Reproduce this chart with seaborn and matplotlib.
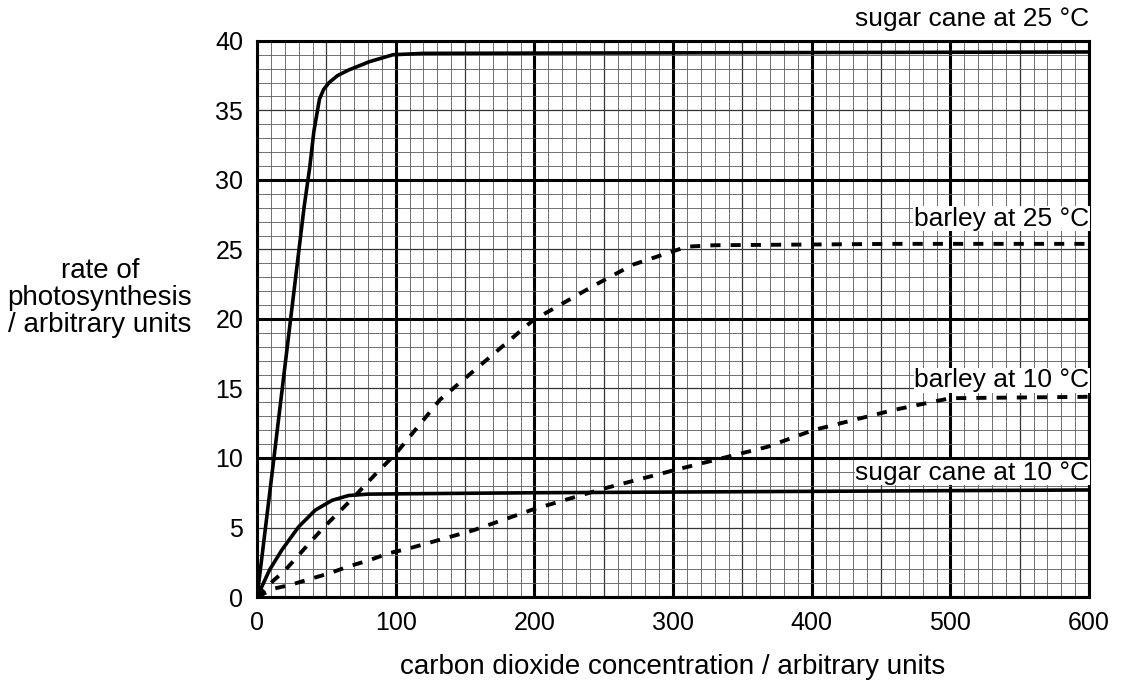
import pandas as pd
import matplotlib
matplotlib.use("Agg")
import matplotlib.pyplot as plt
import seaborn as sns

# ── data ──────────────────────────────────────────────────────────────────────
cane25_x = [0, 10, 20, 34, 38, 41, 45, 48, 52, 58, 66, 81, 98, 120, 600]
cane25_y = [0, 8.2, 16.5, 28.1, 30.9, 33.5, 35.8, 36.5, 37.0, 37.5, 37.9, 38.5, 39.0, 39.1, 39.2]

cane10_x = [0, 9, 18, 30, 42, 54, 66, 80, 100, 200, 400, 600]
cane10_y = [0, 1.95, 3.4, 5.05, 6.25, 6.95, 7.3, 7.4, 7.42, 7.5, 7.6, 7.7]

barley25_x = [0, 12, 20, 29, 38, 48, 58, 68, 86, 100, 132, 199, 243, 271, 298, 310, 330, 460, 600]
barley25_y = [0, 1.2, 1.9, 2.9, 3.9, 5.0, 6.0, 7.0, 8.9, 10.3, 14.2, 19.9, 22.4, 23.9, 24.8, 25.2, 25.3, 25.4, 25.4]

barley10_x = [0, 12, 25, 40, 52, 66, 81, 95, 108, 156, 199, 250, 300, 368, 401, 459, 500, 600]
barley10_y = [0, 0.6, 0.9, 1.35, 1.7, 2.2, 2.65, 3.15, 3.45, 4.8, 6.3, 7.8, 9.1, 10.8, 12.0, 13.45, 14.3, 14.4]

x_ticks = [0, 100, 200, 300, 400, 500, 600]
y_ticks = [0, 5, 10, 15, 20, 25, 30, 35, 40]

# ── style ─────────────────────────────────────────────────────────────────────
sns.set_style("white")
plt.rcParams.update({
    "font.family": ["Liberation Sans", "DejaVu Sans"],
    "text.color": "black",
    "axes.labelcolor": "black",
    "xtick.color": "black",
    "ytick.color": "black",
})

fig = plt.figure(figsize=(11.21, 6.82), dpi=100)
ax = fig.add_axes([0.2293, 0.1246, 0.7422, 0.8155])

# graph-paper grid
for v in range(0, 601, 10):
    lw, c = 0.6, "#5a5a5a"
    if v % 100 == 0:
        lw, c = 2.2, "black"
    elif v % 50 == 0:
        lw, c = 0.9, "#333333"
    ax.axvline(v, color=c, lw=lw, zorder=1)
for v in range(0, 41):
    lw, c = 0.6, "#5a5a5a"
    if v % 10 == 0:
        lw, c = 2.2, "black"
    elif v % 5 == 0:
        lw, c = 0.9, "#333333"
    ax.axhline(v, color=c, lw=lw, zorder=1)

solid = pd.DataFrame({"x": cane25_x + cane10_x,
                      "y": cane25_y + cane10_y,
                      "s": ["c25"] * len(cane25_x) + ["c10"] * len(cane10_x)})
dashed = pd.DataFrame({"x": barley25_x + barley10_x,
                       "y": barley25_y + barley10_y,
                       "s": ["b25"] * len(barley25_x) + ["b10"] * len(barley10_x)})

sns.lineplot(data=solid, x="x", y="y", units="s", estimator=None, sort=False,
             color="black", lw=2.6, ax=ax, zorder=3)
n_before = len(ax.lines)
sns.lineplot(data=dashed, x="x", y="y", units="s", estimator=None, sort=False,
             color="black", lw=2.8, ax=ax, zorder=3)
for line in ax.lines[n_before:]:
    line.set_dashes((2.6, 2.6))

ax.set_xlim(0, 600)
ax.set_ylim(0, 40)
ax.set_xticks(x_ticks)
ax.set_yticks(y_ticks)
ax.tick_params(axis="both", labelsize=18, length=7, width=2, color="black",
               labelcolor="black", direction="out", pad=3)
for sp in ax.spines.values():
    sp.set_color("black")
    sp.set_linewidth(2.2)

ax.set_xlabel("carbon dioxide concentration / arbitrary units", fontsize=20, labelpad=14)
ax.set_ylabel("")
fig.text(0.089, 0.563, "rate of\nphotosynthesis\n/ arbitrary units", fontsize=20,
         ha="center", va="center", linespacing=1.05)

box = dict(facecolor="white", edgecolor="none", pad=0.3)
ax.text(600, 40.7, "sugar cane at 25 °C", fontsize=19, ha="right", va="bottom")
ax.text(600, 27.2, "barley at 25 °C", fontsize=19, ha="right", va="center", bbox=box, zorder=4)
ax.text(600, 15.6, "barley at 10 °C", fontsize=19, ha="right", va="center", bbox=box, zorder=4)
ax.text(600, 8.95, "sugar cane at 10 °C", fontsize=19, ha="right", va="center", bbox=box, zorder=4)

fig.savefig("out.png", dpi=100)
